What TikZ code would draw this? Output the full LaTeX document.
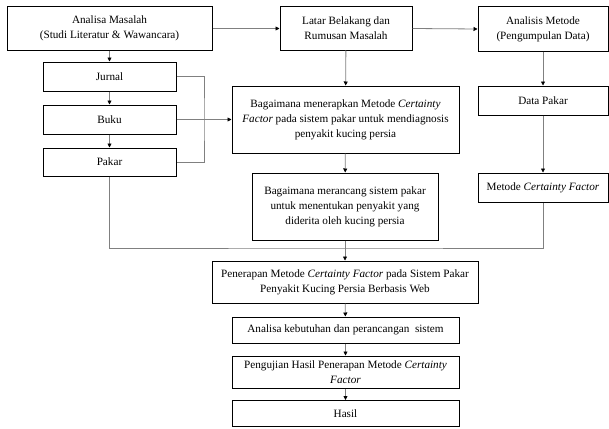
\documentclass[tikz,border=0pt]{standalone}
\usepackage{fontspec}
\setmainfont{Liberation Serif}
\usetikzlibrary{arrows.meta}

\begin{document}
\begin{tikzpicture}[x = 1pt, y = -1pt,
                        box/.style = {draw, line width = 1pt, fill = white, align = center, inner sep = 0pt,
                                      font = \fontsize{11.2}{15}\selectfont},
                        line/.style = {draw = gray, line width = 0.8pt},
                        arrow/.style = {line, -{Triangle[length = 4pt, width = 4pt, color = black]}}]
      \useasboundingbox (0, 0) rectangle (609, 428);
      % left column
      \node [box, minimum width = 205pt, minimum height = 43pt] (masalah) at (109.5, 28.5){Analisa Masalah\\(Studi Literatur \& Wawancara)};
      \node [box, minimum width = 133pt, minimum height = 29pt] (jurnal) at (109.5, 76.5){Jurnal};
      \node [box, minimum width = 133pt, minimum height = 29pt] (buku) at (109.5, 119.5){Buku};
      \node [box, minimum width = 133pt, minimum height = 28pt] (pakar) at (109.5, 162){Pakar};
      % middle column
      \node [box, minimum width = 132pt, minimum height = 43pt] (latar) at (346, 28.5){Latar Belakang dan\\Rumusan Masalah};
      \node [box, minimum width = 227pt, minimum height = 67pt] (menerapkan) at (345.5, 119.5){Bagaimana menerapkan Metode \textit{Certainty}\\\textit{Factor} pada sistem pakar untuk mendiagnosis\\penyakit kucing persia};
      \node [box, minimum width = 186pt, minimum height = 67pt] (merancang) at (345, 206.5){Bagaimana merancang sistem pakar\\untuk menentukan penyakit yang\\diderita oleh kucing persia};
      % right column
      \node [box, minimum width = 130pt, minimum height = 44pt] (metode) at (543, 29){Analisis Metode\\(Pengumpulan Data)};
      \node [box, minimum width = 130pt, minimum height = 29pt] (data) at (543, 100.5){Data Pakar};
      \node [box, minimum width = 130pt, minimum height = 29pt] (cf) at (543, 187.5){Metode \textit{Certainty Factor}};
      % bottom column
      \node [box, minimum width = 266pt, minimum height = 42pt] (penerapan) at (345, 282){Penerapan Metode \textit{Certainty Factor} pada Sistem Pakar\\Penyakit Kucing Persia Berbasis Web};
      \node [box, minimum width = 227pt, minimum height = 26pt] (kebutuhan) at (345.5, 330){Analisa kebutuhan dan perancangan\ \ sistem};
      \node [box, minimum width = 227pt, minimum height = 32pt] (pengujian) at (345.5, 372){Pengujian Hasil Penerapan Metode \textit{Certainty}\\\textit{Factor}};
      \node [box, minimum width = 227pt, minimum height = 26pt] (hasil) at (345.5, 413.5){Hasil};
      \coordinate (brk) at (204, 119.5);
      \coordinate (merge) at (345, 248);
      \draw [arrow] (masalah) -- (jurnal);
      \draw [arrow] (jurnal) -- (buku);
      \draw [arrow] (buku) -- (pakar);
      \draw [line] (jurnal.east) -| (brk) |- (pakar.east);
      \draw [arrow] (buku.east) -- (menerapkan.west);
      \draw [arrow] (masalah.east) -- (latar.west);
      \draw [arrow] (latar.east) -- (metode.west);
      \draw [arrow] (latar) -- (menerapkan);
      \draw [arrow] (menerapkan) -- (merancang);
      \draw [arrow] (metode) -- (data);
      \draw [arrow] (data) -- (cf);
      \draw [line] (pakar.south) |- (merge) -| (cf.south);
      \draw [arrow] (merancang) -- (penerapan);
      \draw [arrow] (penerapan) -- (kebutuhan);
      \draw [arrow] (kebutuhan) -- (pengujian);
      \draw [arrow] (pengujian) -- (hasil);
    \end{tikzpicture}
\end{document}
